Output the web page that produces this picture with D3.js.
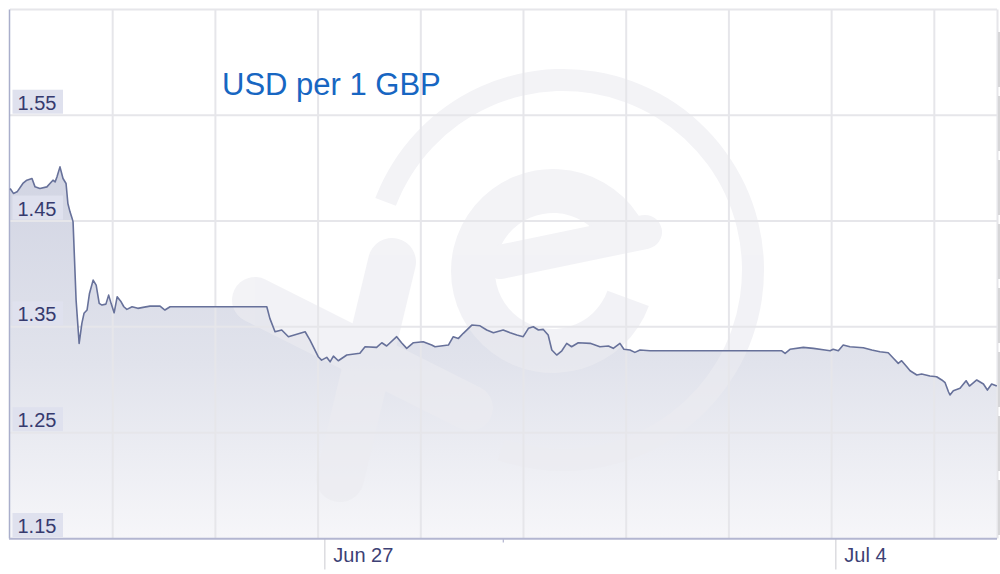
<!DOCTYPE html>
<html><head><meta charset="utf-8">
<script src="https://cdn.jsdelivr.net/npm/d3@7/dist/d3.min.js"></script>
<style>
html,body{margin:0;padding:0;background:#fff;}
svg{display:block;font-family:"Liberation Sans",Arial,sans-serif;}
</style></head>
<body><svg id="chart" width="1000" height="574"></svg>
<script>
// ---- data ----
const titleText = "USD per 1 GBP";
const baseDate = Date.UTC(2016, 5, 27, 0, 0); // hours below are relative to Jun 27 00:00
const xDomainHours = [-103.33, 221.16];
const hours = [-103.3,-102.2,-101.0,-99.1,-97.8,-96.1,-95.1,-93.5,-91.2,-90.2,-89.2,-88.5,-87.9,-86.9,-85.9,-84.9,-84.3,-83.6,-82.9,-82.6,
  -81.6,-80.6,-79.7,-79.0,-78.0,-77.2,-76.0,-75.0,-74.0,-73.1,-71.8,-70.9,-70.1,-69.1,-68.1,-66.8,-65.9,-64.9,-63.2,-61.3,-59.6,-57.3,-54.0,-52.4,-50.7,
  -18.9,-17.9,-16.2,-14.0,-11.8,-6.3,-4.7,-2.0,-0.9,0.8,1.9,3.0,4.6,7.4,11.7,13.4,17.2,18.9,20.5,23.8,25.4,27.1,29.3,32.5,35.3,36.4,40.8,42.4,44.1,45.7,
  48.5,51.2,53.4,55.6,58.8,61.1,63.3,65.4,67.1,68.7,70.4,72.0,73.6,74.8,76.4,78.1,79.7,81.3,83.5,87.4,90.6,93.4,95.0,97.2,98.5,100.5,102.1,103.8,107.1,
  150.4,151.5,153.1,157.5,160.8,164.6,166.3,167.3,169.0,170.6,172.8,177.2,180.0,182.7,185.4,187.1,188.7,189.8,191.5,192.6,194.8,196.4,199.1,201.3,
  203.0,204.1,205.2,205.7,206.8,209.0,211.0,212.1,214.5,216.7,218.0,219.4,221.1];
const rates = [1.4808,1.4761,1.4776,1.4855,1.4886,1.4902,1.4823,1.4808,1.4823,1.4855,1.4886,1.4870,1.4917,1.5012,1.4902,1.4855,1.4666,1.4587,1.4525,1.4492,
  1.3753,1.3344,1.3533,1.3628,1.3659,1.3816,1.3942,1.3895,1.3722,1.3706,1.3715,1.3800,1.3722,1.3633,1.3784,1.3737,1.3690,1.3665,1.3690,1.3675,1.3684,1.3696,1.3696,1.3659,1.3690,
  1.3690,1.3580,1.3454,1.3470,1.3407,1.3454,1.3375,1.3218,1.3186,1.3212,1.3170,1.3224,1.3180,1.3234,1.3250,1.3312,1.3306,1.3350,1.3319,1.3407,1.3350,1.3297,1.3350,1.3359,1.3328,1.3312,1.3328,1.3407,1.3391,1.3439,
  1.3517,1.3510,1.3470,1.3444,1.3470,1.3444,1.3423,1.3407,1.3486,1.3501,1.3470,1.3476,1.3423,1.3281,1.3234,1.3274,1.3344,1.3312,1.3350,1.3344,1.3312,1.3319,1.3297,1.3344,1.3288,1.3281,1.3259,1.3281,1.3274,
  1.3274,1.3250,1.3288,1.3306,1.3297,1.3281,1.3274,1.3288,1.3274,1.3328,1.3312,1.3303,1.3281,1.3265,1.3255,1.3203,1.3155,1.3180,1.3123,1.3085,1.3045,1.3054,1.3035,1.3029,
  1.2998,1.2972,1.2887,1.2856,1.2897,1.2919,1.2991,1.2941,1.2998,1.2960,1.2903,1.2960,1.2941];
const yDomain = [1.15, 1.65];
const yTickValues = [1.15, 1.25, 1.35, 1.45, 1.55];
const yGridValues = [1.25, 1.35, 1.45, 1.55, 1.65];
const xGridHours = [-69.57, -35.80, -2.04, 31.73, 65.49, 99.26, 133.02, 166.79, 200.55];
const xTickDates = ["2016-06-27", "2016-07-04"];
const xMinorTickHours = [58.85];

// ---- setup ----
const toDate = h => new Date(baseDate + h * 3600e3);
const data = hours.map((h, i) => ({ t: toDate(h), v: rates[i] }));
const svg = d3.select("#chart");
const L = 10, R = 997, T = 9.4, B = 538.5;
const x = d3.scaleUtc().domain(xDomainHours.map(toDate)).range([L, R]);
const y = d3.scaleLinear().domain(yDomain).range([B, T]);
const deg = Math.PI / 180;

svg.append("rect").attr("width", 1000).attr("height", 574).attr("fill", "#fff");

const defs = svg.append("defs");
const grad = defs.append("linearGradient").attr("id", "fillGrad")
  .attr("gradientUnits", "userSpaceOnUse").attr("x1", 0).attr("x2", 0).attr("y1", 150).attr("y2", B);
grad.append("stop").attr("offset", 0).attr("stop-color", "#d0d3e2");
grad.append("stop").attr("offset", 0.55).attr("stop-color", "#e1e3ec");
grad.append("stop").attr("offset", 1).attr("stop-color", "#f6f6f9");
defs.append("clipPath").attr("id", "plotClip").append("rect")
  .attr("x", L).attr("y", T).attr("width", R - L).attr("height", B - T);

// area
svg.append("path").datum(data)
  .attr("fill", "url(#fillGrad)")
  .attr("d", d3.area().x(d => x(d.t)).y0(y(yDomain[0])).y1(d => y(d.v)));

// watermark (decorative logo)
const wm = svg.append("g").attr("clip-path", "url(#plotClip)")
  .attr("opacity", 0.63).attr("fill", "none").attr("stroke", "#ececf1");
wm.append("path").attr("transform", "translate(563,270)").attr("stroke", "none").attr("fill", "#ececf1")
  .attr("d", d3.arc().innerRadius(179).outerRadius(201).startAngle(-69 * deg).endAngle(199 * deg)());
wm.append("path").attr("transform", "translate(553,271)").attr("stroke", "none").attr("fill", "#ececf1")
  .attr("d", d3.arc().innerRadius(58).outerRadius(102).startAngle(110 * deg).endAngle(430 * deg)());
wm.append("line").attr("x1", 500).attr("y1", 262).attr("x2", 645).attr("y2", 232)
  .attr("stroke-width", 34).attr("stroke-linecap", "round");
wm.append("line").attr("x1", 392).attr("y1", 262).attr("x2", 340).attr("y2", 478)
  .attr("stroke-width", 48).attr("stroke-linecap", "round");
wm.append("line").attr("x1", 255).attr("y1", 300).attr("x2", 470).attr("y2", 408)
  .attr("stroke-width", 46).attr("stroke-linecap", "round");

// grid
const grid = svg.append("g").attr("stroke", "#e6e6ea").attr("stroke-width", 2);
grid.selectAll("line.h").data(yGridValues).join("line")
  .attr("x1", L).attr("x2", R).attr("y1", d => y(d)).attr("y2", d => y(d));
grid.selectAll("line.v").data(xGridHours).join("line")
  .attr("x1", d => x(toDate(d))).attr("x2", d => x(toDate(d))).attr("y1", T).attr("y2", B);
grid.append("line").attr("x1", R + 0.5).attr("x2", R + 0.5).attr("y1", T).attr("y2", B);

// right scroll-like bar
svg.append("line").attr("x1", 999).attr("x2", 999).attr("y1", 32).attr("y2", B)
  .attr("stroke", "#d6d6d8").attr("stroke-width", 2).attr("stroke-dasharray", "55,9");

// left axis line
svg.append("line").attr("x1", L - 0.5).attr("x2", L - 0.5).attr("y1", T).attr("y2", B)
  .attr("stroke", "#a9aecb").attr("stroke-width", 1.5);

// series line
svg.append("path").datum(data)
  .attr("fill", "none").attr("stroke", "#67719a").attr("stroke-width", 1.6).attr("stroke-linejoin", "round")
  .attr("d", d3.line().x(d => x(d.t)).y(d => y(d.v)));

// x axis
const xAxis = d3.axisBottom(x)
  .tickValues(xTickDates.map(s => new Date(s + "T00:00:00Z")))
  .tickFormat(d3.utcFormat("%b %-d"))
  .tickSize(31).tickPadding(0);
const gx = svg.append("g").attr("transform", `translate(0,${B})`).call(xAxis);
gx.select(".domain").remove();
gx.selectAll(".tick line").attr("stroke", "#dcdce0").attr("stroke-width", 1.5);
gx.selectAll(".tick text").attr("x", 8.5).attr("y", 23).attr("dy", 0)
  .attr("text-anchor", "start").attr("fill", "#3d4175")
  .style("font-size", "20px").style("font-family", "'Liberation Sans', Arial, sans-serif");
svg.append("g").selectAll("line").data(xMinorTickHours).join("line")
  .attr("x1", d => x(toDate(d))).attr("x2", d => x(toDate(d))).attr("y1", B).attr("y2", B + 4)
  .attr("stroke", "#b1b4d0").attr("stroke-width", 1.2);
svg.append("line").attr("x1", L - 1).attr("x2", R).attr("y1", B + 0.2).attr("y2", B + 0.2)
  .attr("stroke", "#b3b6d1").attr("stroke-width", 2);

// y labels
const gy = svg.append("g");
const yl = gy.selectAll("g").data(yTickValues).join("g")
  .attr("transform", d => `translate(0,${y(d)})`);
yl.append("rect").attr("x", 12.5).attr("y", -25.5).attr("width", 50.5).attr("height", 24)
  .attr("fill", "#dfe1ee");
yl.append("text").attr("x", 17.5).attr("y", -5.5).attr("fill", "#363a6e")
  .style("font-size", "20px").text(d => d3.format(".2f")(d));

// title
svg.append("text").attr("x", 222).attr("y", 95).attr("fill", "#1766c2")
  .style("font-size", "31px").text(titleText);
</script></body></html>
